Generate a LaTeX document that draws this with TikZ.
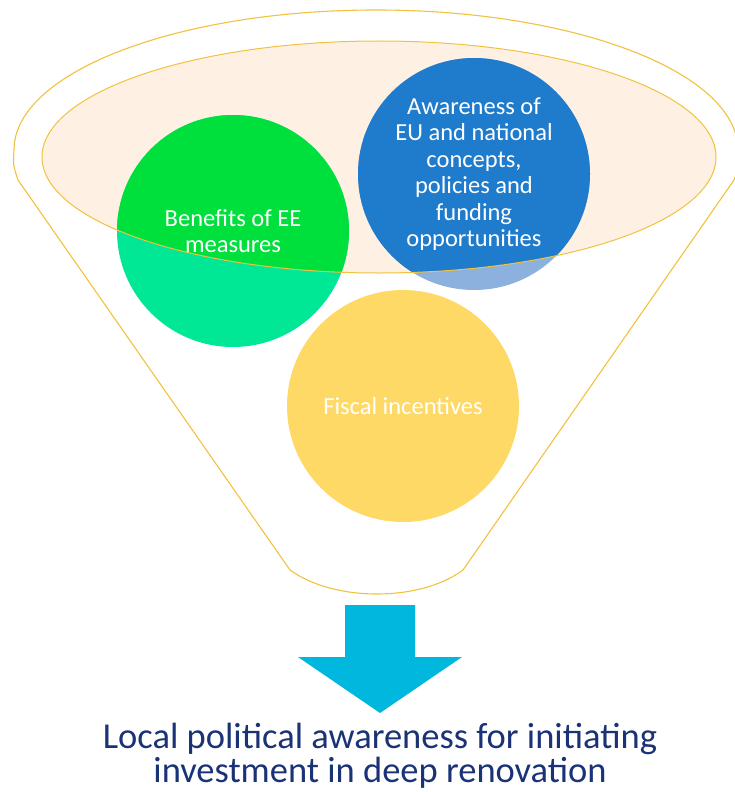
\documentclass[tikz,border=0pt]{standalone}
\usepackage{fontspec}
\setmainfont{Carlito}
\usetikzlibrary{
  calc,
  positioning,
}
\definecolor{gold}{HTML}{F2C23E}
\definecolor{peach}{HTML}{FEF0E2}
\definecolor{greenD}{HTML}{00E03C}
\definecolor{greenL}{HTML}{00E896}
\definecolor{blueD}{HTML}{1F7BCB}
\definecolor{blueL}{HTML}{8DB1DE}
\definecolor{sun}{HTML}{FFD966}
\definecolor{arrowc}{HTML}{00B8DE}
\definecolor{navy}{HTML}{1A3276}

\begin{document}
\begin{tikzpicture}[
    x = 1pt,
    y = -1pt,
    node distance=10pt,
    fun/.style={draw=gold, line width=1.1pt},
    bub/.style={
      circle, minimum size=232pt, inner sep=0pt, align=center,
      text=white, font=\fontsize{24.5}{26.5}\selectfont,
    },
    msg/.style={
      inner sep=0pt, align=center, text=navy,
      font=\fontsize{36.5}{33.5}\selectfont,
    },]
  \useasboundingbox (0,0) rectangle (735,792);
  %% funnel
  \draw[fun, fill=white] (14,150)
  arc[start angle=180, end angle=360, x radius=362, y radius=140]
  .. controls (739,165) .. (734,180) -- (463,570)
  .. controls (420,602) and (334,602) .. (290,570)
  -- (18,180) .. controls (13,165) .. cycle;
  \coordinate (Mouth) at (379,157);
  \fill[peach] (Mouth) ellipse[x radius=337, y radius=116];
  %%
  \coordinate (cBen) at (233,231);
  \coordinate (cAw) at (474,174);
  \coordinate (cFis) at (403,406);
  \fill[greenL] (cBen) circle[radius=116];
  \fill[blueL] (cAw) circle[radius=116];
  \fill[sun] (cFis) circle[radius=116];
  \begin{scope}
    \clip (Mouth) ellipse[x radius=337, y radius=116];
    \fill[greenD] (cBen) circle[radius=116];
    \fill[blueD] (cAw) circle[radius=116];
  \end{scope}
  \draw[fun, line width=1pt] (Mouth) ellipse[x radius=337, y radius=116];
  %%
  \node[bub] (Benefits) at (cBen) {Benefits of EE\\measures};
  \node[bub] (Awareness) at (cAw)
  {Awareness of\\EU and national\\concepts,\\policies and\\funding\\opportunities};
  \node[bub] (Fiscal) at (cFis) {Fiscal incentives};
  %% arrow
  \coordinate (Tip) at (380,713);
  \fill[arrowc] (345,605) -- (415,605) -- (415,657) -- (462,657)
  -- (Tip) -- (298,657) -- (345,657) -- cycle;
  \node[msg, below=of Tip] (Outcome)
  {Local political awareness for initiating\\investment in deep renovation};
\end{tikzpicture}
\end{document}
